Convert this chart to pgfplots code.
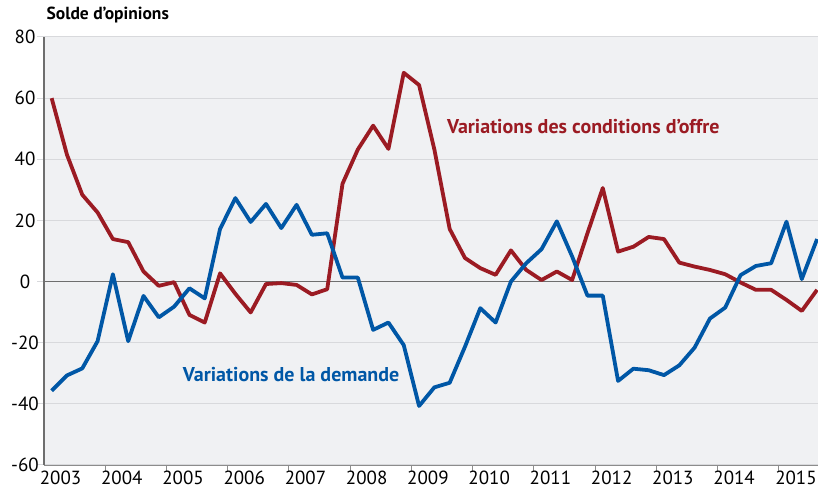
\documentclass[border=0pt]{standalone}
\usepackage{fontspec}
\setmainfont{PT Sans}
\usepackage{pgfplots}
\pgfplotsset{compat=1.18}
\definecolor{cred}{HTML}{9B1B23}
\definecolor{cblue}{HTML}{0057A6}
\definecolor{bg}{HTML}{F0F1F3}
\definecolor{gridc}{HTML}{D8D9DC}
\definecolor{axc}{HTML}{6E6E6E}
\definecolor{tickc}{HTML}{8C8C8C}
\begin{document}
\begin{tikzpicture}
\useasboundingbox (-44pt,-32pt) rectangle (774pt,465pt);
\begin{axis}[
  at={(0,0)}, anchor=south west,
  width=774pt, height=428pt, scale only axis,
  xmin=2003, xmax=2015.64, ymin=-60, ymax=80,
  axis background/.style={fill=bg},
  axis x line*=bottom, axis y line*=left,
  x axis line style={tickc, line width=0.8pt},
  y axis line style={axc, line width=1.8pt},
  xtick={2004,...,2015}, xticklabels={},
  x tick style={tickc, line width=1pt},
  extra x ticks={2003.27,2004.27,2005.27,2006.27,2007.27,2008.27,2009.27,2010.27,2011.27,2012.27,2013.27,2014.27,2015.28},
  extra x tick labels={2003,2004,2005,2006,2007,2008,2009,2010,2011,2012,2013,2014,2015},
  extra x tick style={major tick length=0pt},
  ytick={-60,-40,...,80},
  y tick style={gridc, line width=1pt},
  tick align=outside, major tick length=7pt,
  ymajorgrids, major grid style={gridc, line width=1pt},
  /pgf/number format/assume math mode=true,
  tick label style={font=\fontsize{19}{22}\selectfont},
  yticklabel style={anchor=center, xshift=-12pt},
  xticklabel style={yshift=-2pt},
  clip=true,
]
\addplot[axc, line width=1.8pt, forget plot] coordinates {(2003,0) (2015.64,0)};
\addplot[cred, line width=3.8pt, line join=round] coordinates {
(2003.125,60) (2003.375,41.5) (2003.625,28.4) (2003.875,22.6)
(2004.125,13.9) (2004.375,12.9) (2004.625,3.3) (2004.875,-1.4)
(2005.125,-0.2) (2005.375,-10.9) (2005.625,-13.4) (2005.875,2.7)
(2006.125,-4) (2006.375,-10.1) (2006.625,-0.8) (2006.875,-0.5)
(2007.125,-1.1) (2007.375,-4.2) (2007.625,-2.5) (2007.875,32.0)
(2008.125,43.2) (2008.375,51.0) (2008.625,43.4) (2008.875,68.3)
(2009.125,64.3) (2009.375,43.2) (2009.625,17.2) (2009.875,7.7)
(2010.125,4.4) (2010.375,2.2) (2010.625,10.2) (2010.875,3.8)
(2011.125,0.5) (2011.375,3.3) (2011.625,0.5) (2011.875,15.8)
(2012.125,30.6) (2012.375,9.8) (2012.625,11.4) (2012.875,14.6)
(2013.125,13.9) (2013.375,6.2) (2013.625,4.9) (2013.875,3.8)
(2014.125,2.4) (2014.375,-0.3) (2014.625,-2.7) (2014.875,-2.7)
(2015.125,-6.0) (2015.375,-9.6) (2015.625,-2.7)
};
\addplot[cblue, line width=3.8pt, line join=round] coordinates {
(2003.125,-35.7) (2003.375,-30.7) (2003.625,-28.4) (2003.875,-19.5)
(2004.125,2.4) (2004.375,-19.5) (2004.625,-4.7) (2004.875,-11.7)
(2005.125,-8.2) (2005.375,-2.2) (2005.625,-5.5) (2005.875,17.2)
(2006.125,27.3) (2006.375,19.5) (2006.625,25.4) (2006.875,17.5)
(2007.125,25.1) (2007.375,15.3) (2007.625,15.8) (2007.875,1.3)
(2008.125,1.3) (2008.375,-15.8) (2008.625,-13.4) (2008.875,-20.8)
(2009.125,-40.7) (2009.375,-34.6) (2009.625,-33.1) (2009.875,-21.3)
(2010.125,-8.7) (2010.375,-13.4) (2010.625,0) (2010.875,6.0)
(2011.125,10.6) (2011.375,19.7) (2011.625,8.2) (2011.875,-4.6)
(2012.125,-4.6) (2012.375,-32.5) (2012.625,-28.5) (2012.875,-29.0)
(2013.125,-30.6) (2013.375,-27.4) (2013.625,-21.6) (2013.875,-12.1)
(2014.125,-8.5) (2014.375,2.1) (2014.625,5.1) (2014.875,6.0)
(2015.125,19.6) (2015.375,0.8) (2015.625,13.9)
};
\node[cred, font=\fontsize{20}{24}\selectfont\bfseries] at (axis cs:2011.807,50.6) {Variations des conditions d{\char"0027}offre};
\node[cblue, font=\fontsize{20}{24}\selectfont\bfseries] at (axis cs:2007.036,-30.5) {Variations de la demande};
\end{axis}
\node[anchor=west, inner sep=0pt, font=\fontsize{17.5}{20}\selectfont\bfseries] at (2.5pt,450pt) {Solde d’opinions};
\end{tikzpicture}
\end{document}
